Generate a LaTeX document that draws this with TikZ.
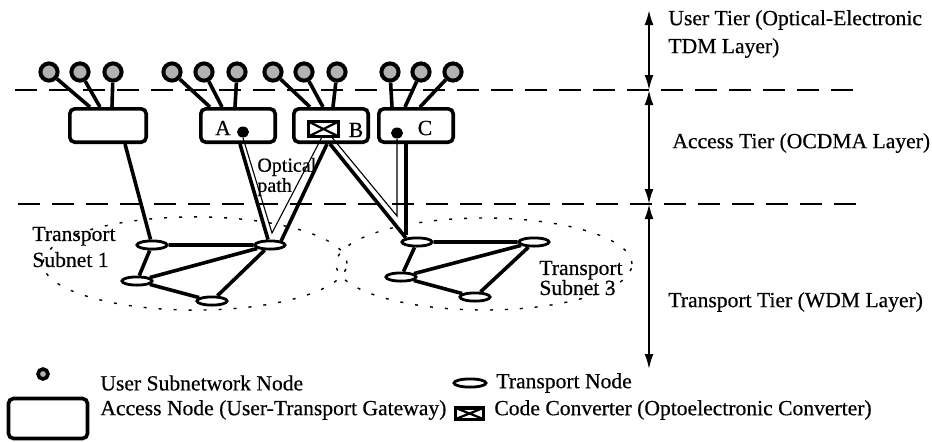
\documentclass[tikz,border=0pt]{standalone}
\usepackage{fontspec}
\setmainfont[FakeBold=0.5]{Liberation Serif}
\usepackage{tikz}
\usetikzlibrary{arrows.meta,calc,positioning,shapes.geometric}
\definecolor{userfill}{RGB}{178,178,178}
\tikzset{
  usernode/.style={circle,draw,line width=2pt,fill=userfill,minimum size=8.6pt,inner sep=0pt},
  accessbox/.style={draw,line width=1.8pt,rounded corners=2.5pt,minimum width=37.2pt,minimum height=16.7pt,inner sep=0pt},
  transnode/.style={ellipse,draw,line width=1.4pt,fill=white,minimum width=15.1pt,minimum height=4.1pt,inner sep=0pt},
  convbox/.style={draw,line width=1.6pt,fill=white,minimum width=14.9pt,minimum height=7.4pt,inner sep=0pt,
    path picture={\draw[line width=1.1pt] (path picture bounding box.north west) -- (path picture bounding box.south east)
      (path picture bounding box.south west) -- (path picture bounding box.north east);}},
  pathdot/.style={ellipse,fill,minimum width=6pt,minimum height=5.5pt,inner sep=0pt},
  link/.style={line width=1.8pt},
  optlink/.style={line width=0.55pt},
  tierline/.style={line width=0.55pt,dash pattern=on 11pt off 6pt},
  subnet/.style={line width=0.7pt,dash pattern=on 1.5pt off 6pt},
  tierarrow/.style={line width=1pt,{Latex[length=7.5pt,width=4.5pt]}-{Latex[length=7.5pt,width=4.5pt]}},
  lbl/.style={font=\fontsize{10.8}{13}\selectfont,inner sep=0pt}
}

\begin{document}
\begin{tikzpicture}[x=0.5pt,y=-0.5pt]
  \useasboundingbox (0,0) rectangle (932,441);
  % tier boundaries
  \draw[tierline] (15,90) -- (862,90);
  \draw[tierline] (18,204) -- (860,204);
  \coordinate (ar0) at (649,10);
  \coordinate (ar1) at (649,90);
  \coordinate (ar2) at (649,204);
  \coordinate (ar3) at (649,369);
  \draw[tierarrow] (ar0) -- (ar1);
  \draw[tierarrow] (ar1) -- (ar2);
  \draw[tierarrow] (ar2) -- (ar3);
  \node[lbl,anchor=west,align=left,font=\fontsize{10.8}{14}\selectfont] (usertier) at (668,34) {User Tier (Optical-Electronic\\TDM Layer)};
  \node[lbl,anchor=west] (accesstier) at (672,143) {Access Tier (OCDMA Layer)};
  \node[lbl,anchor=west] (transtier) at (668,302) {Transport Tier (WDM Layer)};
  % subnet outlines
  \draw[subnet] (195,263.5) ellipse [x radius=76pt, y radius=23.3pt];
  \draw[subnet] (484,264) ellipse [x radius=74pt, y radius=23pt];
  \node[lbl,anchor=west,align=left] (sub1) at (32,247) {Transport\\Subnet 1};
  \node[lbl,anchor=west,align=left,font=\fontsize{10.8}{10}\selectfont] (sub3) at (539,278) {Transport\\Subnet 3};
  % access tier
  \node[accessbox,minimum width=38.2pt] (acc0) at (108,125.5) {};
  \node[accessbox] (accA) at (238,125.5) {};
  \node[accessbox] (accB) at (331,125.5) {};
  \node[accessbox] (accC) at (416,125.5) {};
  \node[lbl] (labA) at (223,128) {A};
  \node[lbl] (labB) at (356,130) {B};
  \node[lbl] (labC) at (425,128) {C};
  \node[pathdot] (dotA) at (243,132) {};
  \node[pathdot] (dotC) at (397,133) {};
  \node[convbox] (conv) at (323.5,129) {};
  % user tier
  \foreach \ux/\ubox/\udx [count=\i] in {49/acc0/-9,80/acc0/-4,113/acc0/2,
      172/accA/-14,204/accA/-8,237/accA/-1.5,
      273/accB/-10.5,304/accB/-4,337/accB/1,
      390/accC/-12,421/accC/-5.5,453/accC/2} {
    \node[usernode] (u\i) at (\ux,72) {};
    \draw[link] (u\i) -- ([xshift=\udx pt]\ubox.north);
  }
  % transport tier
  \node[transnode] (t11) at (152,245) {};
  \node[transnode] (t12) at (270,245) {};
  \node[transnode] (t13) at (137,281) {};
  \node[transnode] (t14) at (212,301) {};
  \node[transnode] (t31) at (417,242) {};
  \node[transnode] (t32) at (534,242) {};
  \node[transnode] (t33) at (401,277) {};
  \node[transnode] (t34) at (475,297) {};
  \draw[link] (t11) -- (t12) (t11) -- (t13) (t13) -- (t12) (t13) -- (t14) (t14) -- (t12);
  \draw[link] (t31) -- (t32) (t31) -- (t33) (t33) -- (t32) (t33) -- (t34) (t34) -- (t32);
  % access to transport
  \draw[link] ([xshift=8.5pt]acc0.south) -- (t11);
  \draw[link] ([xshift=1pt]accA.south) -- (t12.110);
  \draw[link] ([xshift=-2pt]accB.south) -- (t12.20);
  \draw[link] ([xshift=-0.5pt]accB.south) -- (t31.160);
  \draw[link,shorten >=0.8pt] ([xshift=-5pt]accC.south) -- ([xshift=-5pt]accC.south |- t31.north);
  % optical path
  \coordinate (v1) at (272,233);
  \coordinate (v2) at (397,216);
  \draw[optlink] (dotA.south) -- (v1) -- ([xshift=-1pt]conv.south);
  \draw[optlink] ([xshift=4.5pt]conv.south) -- (v2) -- (dotC.south);
  \node[lbl,anchor=west,align=left,font=\fontsize{10}{6.8}\selectfont] (optlbl) at (257,177) {Optical\\path};
  % legend
  \node[usernode,minimum size=5pt,line width=1.8pt] (legU) at (43,374) {};
  \node[lbl,anchor=west] (legUt) at (100,383) {User Subnetwork Node};
  \node[accessbox,minimum width=39.5pt,minimum height=20pt] (legA) at (48,418.5) {};
  \node[lbl,anchor=west] (legAt) at (100,410) {Access Node (User-Transport Gateway)};
  \node[transnode,minimum width=16pt] (legT) at (470,383) {};
  \node[lbl,anchor=west] (legTt) at (496,383) {Transport Node};
  \node[convbox,minimum height=5.6pt,minimum width=14pt] (legC) at (469.5,413.5) {};
  \node[lbl,anchor=west] (legCt) at (494,410) {Code Converter (Optoelectronic Converter)};
\end{tikzpicture}
\end{document}
